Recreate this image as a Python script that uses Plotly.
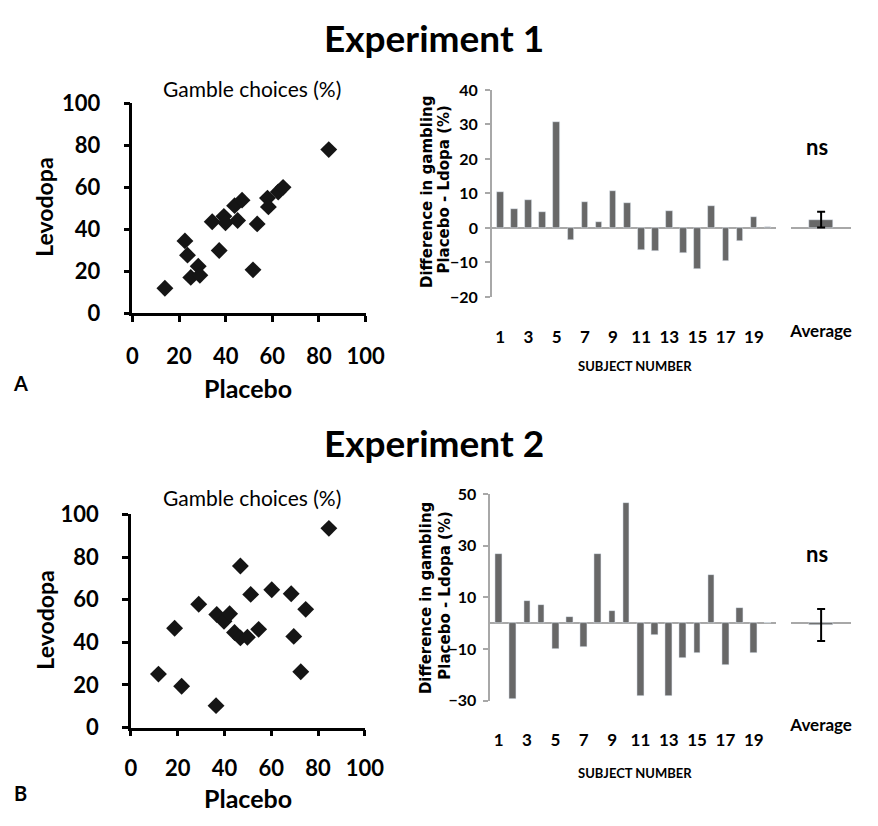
import plotly.graph_objects as go

# page body has an 8px margin, so the figure is sized to the visible area
OFF = 8
W, H = 878 - OFF, 826 - OFF

# ---------------- data ----------------
exp1_placebo = [13.9, 22.5, 23.6, 25.0, 28.2, 28.9, 34.2, 37.2, 39.2, 39.9,
                43.8, 45.1, 47.0, 51.7, 53.5, 57.9, 58.3, 62.5, 64.6, 84.2]
exp1_levodopa = [11.8, 34.4, 27.6, 17.0, 22.3, 18.0, 43.5, 29.8, 46.1, 43.0,
                 51.2, 44.1, 53.8, 20.6, 42.5, 54.8, 50.6, 57.7, 59.9, 77.9]

exp2_placebo = [11.8, 18.7, 21.7, 29.0, 36.4, 36.7, 39.8, 42.2, 44.3, 46.8,
                46.8, 49.8, 51.2, 54.6, 60.2, 68.5, 69.6, 72.6, 74.7, 84.6]
exp2_levodopa = [25.1, 46.6, 19.4, 57.9, 10.3, 53.1, 49.9, 53.4, 44.6, 75.8,
                 42.1, 42.4, 62.5, 46.1, 64.7, 62.8, 42.8, 26.2, 55.5, 93.5]

subjects = list(range(1, 21))
exp1_diff = [10.4, 5.4, 8.0, 4.5, 30.6, -3.6, 7.6, 1.8, 10.7, 7.1,
             -6.4, -6.7, 4.8, -7.2, -12.0, 6.4, -9.7, -3.9, 3.1, 0.4]
exp2_diff = [26.7, -29.1, 8.5, 7.0, -10.1, 2.4, -9.2, 26.7, 4.6, 46.6,
             -28.1, -4.6, -28.1, -13.4, -11.6, 18.8, -16.0, 5.8, -11.3, 0.0]

exp1_avg, exp1_err = 2.4, 2.3
exp2_avg, exp2_err = -0.7, 6.2

scatter_ticks = [0, 20, 40, 60, 80, 100]
bar1_ticks = [-20, -10, 0, 10, 20, 30, 40]
bar2_ticks = [-30, -10, 10, 30, 50]
subject_ticks = [1, 3, 5, 7, 9, 11, 13, 15, 17, 19]

# ---------------- style ----------------
FONT = "Lato"
WIDE_FONT = "DejaVu Sans"
BAR_COLOR = "#686868"
AXIS_GRAY = "#a8a8a8"


def px_x(p):
    return (p - OFF) / W


def px_y(p):
    return 1 - (p - OFF) / H


fig = go.Figure()

fig.add_trace(go.Scatter(x=exp1_placebo, y=exp1_levodopa, mode="markers",
                         marker=dict(symbol="diamond", size=13, color="#151515"),
                         xaxis="x", yaxis="y", cliponaxis=False, showlegend=False))
fig.add_trace(go.Scatter(x=exp2_placebo, y=exp2_levodopa, mode="markers",
                         marker=dict(symbol="diamond", size=13, color="#151515"),
                         xaxis="x4", yaxis="y4", cliponaxis=False, showlegend=False))

fig.add_trace(go.Bar(x=subjects, y=exp1_diff, width=0.47, marker_color=BAR_COLOR,
                     xaxis="x2", yaxis="y2", showlegend=False))
fig.add_trace(go.Bar(x=[1], y=[exp1_avg], width=0.8, marker_color=BAR_COLOR,
                     error_y=dict(type="data", array=[exp1_err], color="black",
                                  thickness=2, width=4),
                     xaxis="x3", yaxis="y3", showlegend=False))
fig.add_trace(go.Bar(x=subjects, y=exp2_diff, width=0.47, marker_color=BAR_COLOR,
                     xaxis="x5", yaxis="y5", showlegend=False))
fig.add_trace(go.Bar(x=[1], y=[exp2_avg], width=0.8, marker_color=BAR_COLOR,
                     error_y=dict(type="data", array=[exp2_err], color="black",
                                  thickness=2, width=4),
                     xaxis="x6", yaxis="y6", showlegend=False))


def scatter_axes(xdom, ydom, anchor_x, anchor_y, xstand):
    common = dict(range=[0, 100], tickvals=scatter_ticks, showline=True,
                  linecolor="black", linewidth=2.5, ticks="outside", ticklen=6,
                  tickwidth=2.5, tickcolor="black", showgrid=False, zeroline=False,
                  tickfont=dict(family=FONT, size=22, color="black", weight="bold"))
    xa = dict(common, domain=xdom, anchor=anchor_y, ticklabelstandoff=xstand)
    ya = dict(common, domain=ydom, anchor=anchor_x, ticklabelstandoff=19)
    return xa, ya


def bar_axes(xdom, ydom, yrange, yticks, anchor_x, anchor_y, standoff):
    xa = dict(domain=xdom, anchor=anchor_y, range=[0.4, 20.6], tickvals=subject_ticks,
              showline=False, ticks="", showgrid=False, zeroline=False,
              ticklabelstandoff=standoff,
              tickfont=dict(family=FONT, size=17, color="black", weight="bold"))
    ya = dict(domain=ydom, anchor=anchor_x, range=yrange, tickvals=yticks,
              showline=True, linecolor=AXIS_GRAY, linewidth=1.5, ticks="outside",
              ticklen=5, tickcolor=AXIS_GRAY, tickwidth=1.5, showgrid=False,
              zeroline=True, zerolinecolor=AXIS_GRAY, zerolinewidth=2,
              ticklabelstandoff=4,
              tickfont=dict(family=FONT, size=16, color="black", weight="bold"))
    return xa, ya


def avg_axes(xdom, ydom, yrange, anchor_x, anchor_y, standoff):
    xa = dict(domain=xdom, anchor=anchor_y, range=[0, 2], tickvals=[1],
              ticktext=["Average"], showline=False, ticks="", showgrid=False,
              zeroline=False, ticklabelstandoff=standoff,
              tickfont=dict(family=FONT, size=17, color="black", weight="bold"))
    ya = dict(domain=ydom, anchor=anchor_x, range=yrange, showline=False,
              ticks="", showticklabels=False, showgrid=False, zeroline=True,
              zerolinecolor=AXIS_GRAY, zerolinewidth=2)
    return xa, ya


x1, y1 = scatter_axes([px_x(130), px_x(370)], [px_y(309), px_y(92)], "x", "y", 16)
x4, y4 = scatter_axes([px_x(128.3), px_x(369.3)], [px_y(737.7), px_y(517.3)], "x4", "y4", 13)

x2, y2 = bar_axes([px_x(500), px_x(793)], [px_y(292.3), px_y(78.3)], [-20, 40], bar1_ticks,
                  "x2", "y2", 28)
x5, y5 = bar_axes([px_x(498.3), px_x(793)], [px_y(710), px_y(496)], [-30, 50], bar2_ticks,
                  "x5", "y5", 27)

x3, y3 = avg_axes([px_x(808), px_x(870)], [px_y(292.3), px_y(78.3)], [-20, 40], "x3", "y3", 22)
x6, y6 = avg_axes([px_x(808), px_x(870)], [px_y(710), px_y(496)], [-30, 50], "x6", "y6", 12)

fig.update_layout(
    width=W, height=H, margin=dict(l=0, r=0, t=0, b=0),
    paper_bgcolor="white", plot_bgcolor="white", bargap=0,
    xaxis=x1, yaxis=y1, xaxis2=x2, yaxis2=y2, xaxis3=x3, yaxis3=y3,
    xaxis4=x4, yaxis4=y4, xaxis5=x5, yaxis5=y5, xaxis6=x6, yaxis6=y6,
)


def text_ann(text, x, y, size, bold=True, angle=0, family=FONT):
    fig.add_annotation(text=f"<b>{text}</b>" if bold else text,
                       x=px_x(x), y=px_y(y), xref="paper", yref="paper",
                       xanchor="center", yanchor="middle", showarrow=False,
                       textangle=angle,
                       font=dict(family=family, size=size, color="black"))


text_ann("Experiment 1", 440, 24, 37)
text_ann("Experiment 2", 440, 443, 37)
text_ann("Gamble choices (%)", 253, 77, 21, bold=False)
text_ann("Gamble choices (%)", 253, 500, 21, bold=False)
text_ann("Placebo", 249, 387, 25)
text_ann("Placebo", 249, 810, 25)
text_ann("Levodopa", 39, 200, 23, angle=-90)
text_ann("Levodopa", 39, 627, 23, angle=-90)
text_ann("Difference in gambling", 433, 184, 15, angle=-90, family=WIDE_FONT)
text_ann("Placebo - Ldopa (%)", 451, 181, 15, angle=-90, family=WIDE_FONT)
text_ann("Difference in gambling", 433, 604, 15, angle=-90, family=WIDE_FONT)
text_ann("Placebo - Ldopa (%)", 452, 601, 15, angle=-90, family=WIDE_FONT)
text_ann("ns", 835, 137, 22)
text_ann("ns", 835, 558, 22)
text_ann("SUBJECT NUMBER", 647, 364, 13)
text_ann("SUBJECT NUMBER", 647, 785, 13)
text_ann("A", 15, 381, 20)
text_ann("B", 15, 805, 20)

fig.write_html("out.html")
